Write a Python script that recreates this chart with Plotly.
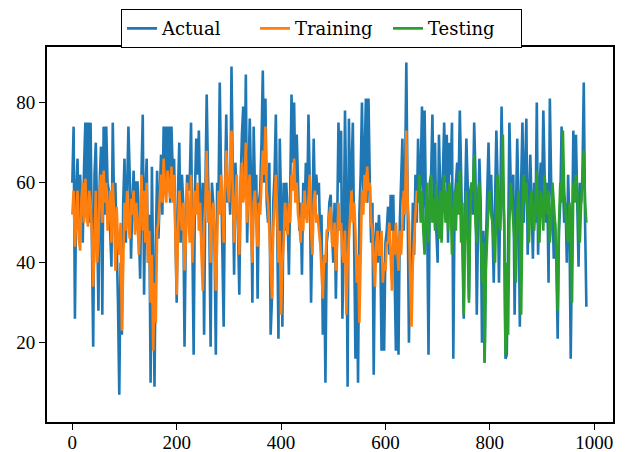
import plotly.graph_objects as go

STEP = 2.5

actual = [
    60, 74, 26, 58, 66, 48, 62, 55, 45, 64,
    75, 55, 75, 50, 75, 46, 19, 62, 70, 52,
    28, 60, 69, 27, 74, 52, 74, 60, 58, 48,
    39, 75, 55, 60, 48, 30, 7, 40, 22, 55,
    66, 45, 58, 74, 62, 41, 55, 63, 50, 60,
    60, 45, 36, 62, 77, 32, 58, 66, 40, 52,
    10, 64, 30, 9, 45, 63, 46, 55, 67, 52,
    74, 58, 74, 60, 74, 55, 74, 62, 66, 48,
    30, 58, 70, 45, 62, 55, 19, 48, 62, 58,
    60, 75, 50, 17, 58, 71, 62, 73, 55, 45,
    60, 22, 58, 82, 62, 50, 19, 60, 55, 45,
    17, 60, 55, 85, 62, 45, 24, 58, 77, 55,
    60, 52, 89, 62, 37, 65, 55, 48, 32, 60,
    72, 79, 58, 87, 45, 65, 76, 60, 30, 74,
    58, 62, 31, 55, 58, 70, 88, 60, 81, 55,
    50, 65, 22, 31, 55, 62, 77, 50, 21, 71,
    55, 24, 60, 48, 60, 52, 37, 58, 82, 65,
    80, 58, 72, 60, 48, 55, 37, 60, 52, 65,
    54, 77, 60, 30, 58, 71, 55, 62, 57, 60,
    45, 52, 22, 40, 10, 45, 48, 55, 57, 48,
    40, 55, 31, 50, 75, 60, 73, 26, 45, 78,
    55, 9, 76, 55, 62, 75, 50, 16, 40, 10,
    52, 62, 80, 58, 65, 81, 55, 81, 60, 45,
    55, 12, 45, 50, 40, 52, 45, 18, 40, 18,
    45, 48, 54, 42, 57, 48, 57, 40, 18, 45,
    17, 50, 62, 71, 48, 60, 90, 55, 20, 42,
    35, 55, 42, 62, 50, 71, 55, 62, 79, 50,
    78, 55, 50, 17, 60, 62, 77, 55, 70, 48,
    40, 72, 58, 55, 62, 75, 60, 72, 45, 70,
    62, 75, 16, 55, 60, 65, 58, 78, 62, 48,
    26, 55, 71, 60, 31, 58, 60, 52, 75, 62,
    27, 50, 66, 55, 20, 48, 15, 45, 58, 70,
    55, 62, 50, 35, 55, 73, 60, 35, 55, 79,
    60, 50, 16, 17, 45, 75, 60, 55, 62, 27,
    52, 71, 55, 24, 60, 75, 50, 65, 76, 42,
    58, 67, 55, 41, 60, 50, 80, 42, 58, 65,
    55, 78, 62, 50, 60, 35, 81, 60, 55, 41,
    50, 40, 21, 48, 55, 74, 60, 50, 55, 40,
    62, 50, 16, 55, 73, 60, 72, 55, 39, 60,
    55, 62, 85, 50, 29,
]

training = [
    52, 58, 44, 50, 58, 46, 43, 56, 60, 50,
    61, 52, 49, 58, 55, 48, 34, 45, 58, 40,
    45, 58, 62, 50, 63, 55, 60, 48, 52, 58,
    45, 60, 52, 38, 54, 45, 42, 50, 23, 45,
    55, 48, 58, 50, 46, 56, 52, 58, 47, 55,
    50, 42, 55, 62, 48, 58, 45, 60, 40, 48,
    30, 42, 18, 35, 25, 48, 50, 58, 62, 55,
    66, 58, 55, 63, 60, 56, 64, 55, 62, 50,
    32, 48, 58, 52, 48, 55, 38, 45, 60, 52,
    45, 62, 40, 50, 58, 52, 60, 48, 55, 42,
    33, 50, 55, 68, 50, 58, 40, 52, 55, 48,
    33, 45, 58, 52, 62, 55, 45, 58, 68, 60,
    55, 62, 73, 58, 45, 55, 62, 50, 42, 58,
    65, 55, 58, 70, 50, 58, 62, 48, 40, 55,
    58, 50, 44, 55, 52, 60, 68, 62, 74, 58,
    55, 48, 38, 31, 48, 55, 62, 52, 40, 48,
    27, 40, 45, 55, 50, 47, 55, 50, 62, 58,
    66, 55, 60, 52, 50, 45, 55, 48, 58, 52,
    50, 58, 62, 48, 42, 55, 58, 50, 52, 48,
    45, 38, 31, 42, 40, 48, 48, 52, 54, 45,
    44, 50, 38, 45, 55, 48, 50, 42, 40, 48,
    27, 40, 45, 52, 58, 50, 55, 48, 35, 42,
    25, 45, 58, 52, 62, 55, 64, 58, 60, 50,
    48, 40, 34, 45, 48, 42, 42, 48, 35, 40,
    38, 45, 45, 50, 40, 33, 48, 42, 50, 45,
    38, 48, 42, 50, 58, 52, 73, 55, 50, 35,
    24, 40, 45, 52, 58,
]

testing = [
    55, 62, 50, 58, 48, 42, 52, 60, 45, 55,
    62, 50, 56, 48, 60, 52, 46, 58, 45, 55,
    62, 50, 58, 48, 60, 55, 42, 52, 58, 48,
    60, 52, 63, 45, 55, 27, 50, 58, 45, 30,
    52, 60, 58, 67, 50, 45, 58, 60, 48, 35,
    45, 15, 38, 48, 55, 58, 52, 50, 45, 40,
    55, 62, 50, 48, 58, 72, 50, 17, 40, 22,
    50, 60, 55, 50, 45, 35, 52, 58, 48, 27,
    52, 62, 55, 60, 50, 45, 55, 58, 50, 48,
    55, 63, 50, 45, 58, 55, 48, 62, 55, 52,
    58, 45, 50, 60, 55, 50, 42, 28, 50, 60,
    55, 73, 58, 52, 48, 45, 55, 50, 30, 60,
    55, 62, 58, 50, 45, 55, 60, 68, 55, 50,
]

x_ticks = [0, 200, 400, 600, 800, 1000]
y_ticks = [20, 40, 60, 80]

x_actual = [i * STEP for i in range(len(actual))]
x_train = [i * STEP for i in range(len(training))]
test_start = len(training) * STEP
x_test = [test_start + i * STEP for i in range(len(testing))]

fig = go.Figure()
fig.add_trace(go.Scatter(x=x_actual, y=actual, mode="lines", name="Actual",
                         line=dict(color="#1f77b4", width=2.6)))
fig.add_trace(go.Scatter(x=x_train, y=training, mode="lines", name="Training",
                         line=dict(color="#ff7f0e", width=2.6)))
fig.add_trace(go.Scatter(x=x_test, y=testing, mode="lines", name="Testing",
                         line=dict(color="#2ca02c", width=2.6)))

axis_common = dict(
    showgrid=False, zeroline=False, showline=True, linecolor="black", linewidth=2,
    mirror=True, ticks="outside", ticklen=6, tickwidth=1, tickcolor="black",
    tickfont=dict(family="Liberation Serif", size=19, color="black"),
)

# the page body adds an 8px offset, so the figure is sized to the remaining area
fig.update_layout(
    width=624, height=444,
    margin=dict(l=39, r=19, t=39, b=30, autoexpand=False),
    paper_bgcolor="white", plot_bgcolor="white",
    xaxis=dict(range=[-48.5, 1036], tickvals=x_ticks, ticklabelstandoff=-4,
               **axis_common),
    yaxis=dict(range=[0.2, 93.9], tickvals=y_ticks, **axis_common),
    showlegend=True,
    legend=dict(
        orientation="h", x=0.485, xanchor="center", y=1.101, yanchor="top",
        bordercolor="black", borderwidth=1, bgcolor="white",
        font=dict(family="DejaVu Serif", size=18, color="black"),
        entrywidth=88, entrywidthmode="pixels",
    ),
)

fig.write_html("out.html")
